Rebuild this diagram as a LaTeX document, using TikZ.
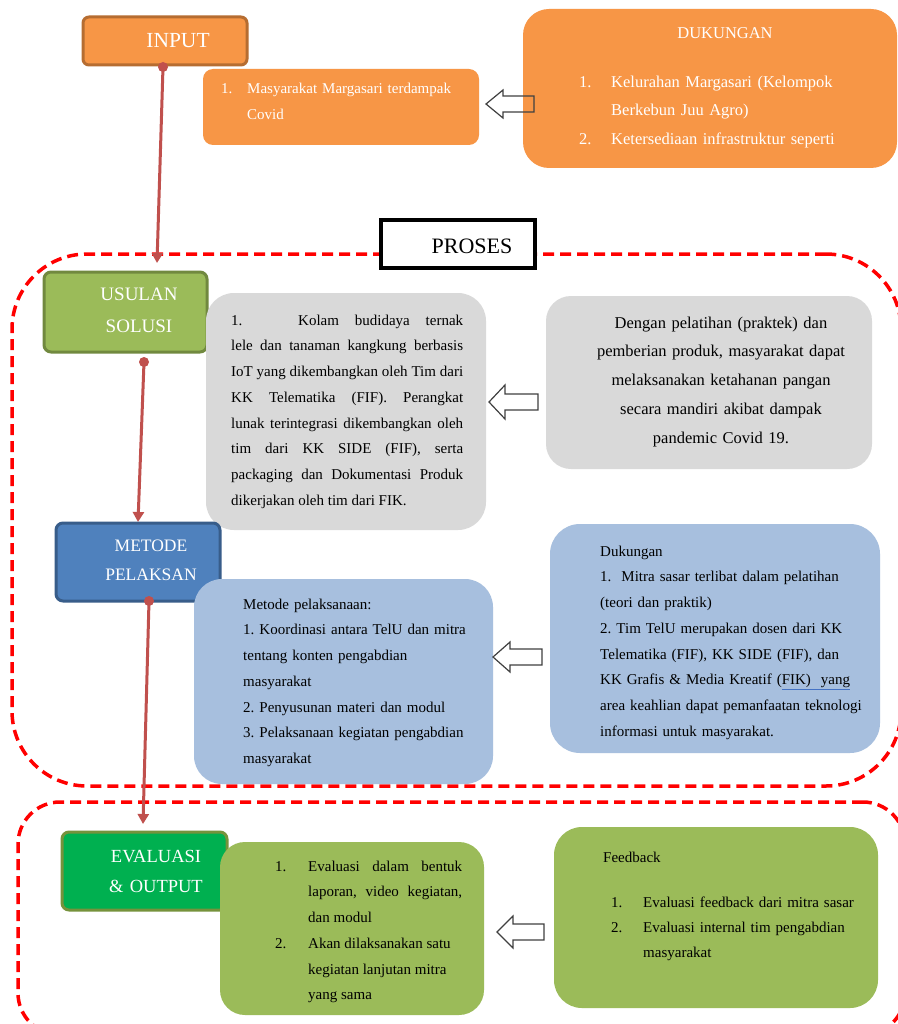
\documentclass[tikz,border=0pt]{standalone}
\usepackage{fontspec}
\setmainfont{Liberation Serif}
\usetikzlibrary{arrows.meta,fit}
\setlength\parindent{0pt}
\frenchspacing
\definecolor{cOrange}{HTML}{F79646}
\definecolor{cOrangeD}{HTML}{B66D31}
\definecolor{cGreen}{HTML}{9BBB59}
\definecolor{cGreenD}{HTML}{71893F}
\definecolor{cBlue}{HTML}{4F81BD}
\definecolor{cBlueD}{HTML}{385D8A}
\definecolor{cLBlue}{HTML}{A7BFDE}
\definecolor{cGrey}{HTML}{D9D9D9}
\definecolor{cEval}{HTML}{00B050}
\definecolor{cEvalD}{HTML}{76923C}
\definecolor{cConn}{HTML}{C0504D}
\definecolor{cDash}{HTML}{FF0000}
\definecolor{cArrow}{HTML}{404040}
\definecolor{cUl}{HTML}{4472C4}
\newcommand\myul[1]{{\color{cUl}\underline{\color{black}#1}}}
\newcommand\fr[1]{\rule{0pt}{#1pt}}
\newcommand\num[2]{\leavevmode\llap{\makebox[#1pt][l]{#2}}}
\tikzset{
  region/.style={draw=cDash, line width=3.5pt, dash pattern=on 11pt off 6pt, inner sep=0pt},
  lblbox/.style={line width=3pt, inner sep=0pt, rounded corners=7pt},
  infobox/.style={inner sep=0pt, draw=none},
  tb/.style={text=black, inner sep=0pt, font=\fontsize{15}{25.7}\selectfont},
  wt/.style={text=white, inner sep=0pt},
  conn/.style={draw=cConn, line width=3pt, -{Triangle[width=11pt,length=10pt]}},
  barrow/.style={draw=cArrow, line width=1.2pt, line join=miter},
}
\begin{document}
\begin{tikzpicture}[x=1pt,y=-1pt]
\useasboundingbox (0,0) rectangle (897,1024);
\fill[white] (0,0) rectangle (897,1024);

% dashed regions
\node[region, rounded corners=75pt, fit={(12,254)(901,786)}] (rproses) {};
\node[region, rounded corners=42pt, fit={(18,802)(905,1035)}] (routput) {};

% INPUT row
\node[lblbox, fill=cOrange, draw=cOrangeD, rounded corners=6pt, fit={(83,17)(247,65)}] (inp) {};
\node[wt, anchor=base, font=\fontsize{21.5}{24}\selectfont] (inpt) at (178,48) {INPUT};
\node[infobox, fill=cOrange, rounded corners=10pt, fit={(203,69)(479,145)}] (inl) {};
\node[wt, text width=215pt, align=left, anchor=north west, font=\fontsize{15}{26}\selectfont] (inlt) at (247,81) {\fr{12}\num{26}{1.}Masyarakat Margasari terdampak\\ Covid};
\node[infobox, fill=cOrange, rounded corners=26pt, fit={(523,9)(897,168)}] (duk) {};
\node[wt, anchor=base, font=\fontsize{16.5}{20}\selectfont] (dukh) at (725,39) {DUKUNGAN};
\node[wt, text width=280pt, align=left, anchor=north west, font=\fontsize{16.5}{28.5}\selectfont] (dukt) at (611,75) {\fr{12}\num{32}{1.}Kelurahan Margasari (Kelompok\\ Berkebun Juu Agro)\\ \num{32}{2.}Ketersediaan infrastruktur seperti};

% PROSES label
\node[draw=black, fill=white, line width=3.5pt, inner sep=0pt, fit={(381,220)(535,268)}] (pros) {};
\node[text=black, inner sep=0pt, anchor=base, font=\fontsize{22}{24}\selectfont] (prost) at (472,253) {PROSES};

% USULAN row
\node[lblbox, fill=cGreen, draw=cGreenD, fit={(44,272)(207,352)}] (usu) {};
\node[wt, text width=140pt, align=center, anchor=north, font=\fontsize{19}{32}\selectfont] (usut) at (139,285) {\fr{15}USULAN\\SOLUSI};
\node[infobox, fill=cGrey, rounded corners=28pt, fit={(206,293)(486,530)}] (gl) {};
\node[tb, text width=232pt, align=justify, anchor=north west] (glt) at (231,313) {\fr{12}\makebox[67pt][l]{1.}Kolam budidaya ternak\linebreak lele dan tanaman kangkung berbasis\linebreak IoT yang dikembangkan oleh Tim dari\linebreak KK Telematika (FIF). Perangkat\linebreak lunak terintegrasi dikembangkan oleh\linebreak tim dari KK SIDE (FIF), serta\linebreak packaging dan Dokumentasi Produk\linebreak dikerjakan oleh tim dari FIK.};
\node[infobox, fill=cGrey, rounded corners=25pt, fit={(546,296)(872,469)}] (gr) {};
\node[tb, text width=320pt, align=center, anchor=north, font=\fontsize{16.5}{28.75}\selectfont] (grt) at (721,316) {\fr{12}Dengan pelatihan (praktek) dan\\ pemberian produk, masyarakat dapat\\ melaksanakan ketahanan pangan\\ secara mandiri akibat dampak\\ pandemic Covid 19.};

% METODE row
\node[lblbox, fill=cBlue, draw=cBlueD, fit={(56,523)(220,601)}] (met) {};
\node[wt, text width=140pt, align=center, anchor=north, font=\fontsize{17.5}{29}\selectfont] (mett) at (151,536) {\fr{15}METODE\\PELAKSAN};
\node[infobox, fill=cLBlue, rounded corners=28pt, fit={(194,579)(493,784)}] (bl) {};
\node[tb, text width=260pt, align=left, anchor=north west] (blt) at (243,597) {\fr{12}Metode pelaksanaan:\\ 1. Koordinasi antara TelU dan mitra\\ tentang konten pengabdian\\ masyarakat\\ 2. Penyusunan materi dan modul\\ 3. Pelaksanaan kegiatan pengabdian\\ masyarakat};
\node[infobox, fill=cLBlue, rounded corners=30pt, fit={(550,524)(880,753)}] (br) {};
\node[tb, text width=280pt, align=left, anchor=north west] (brt) at (600,544) {\fr{12}Dukungan\\ 1.\ \ Mitra sasar terlibat dalam pelatihan\\ (teori dan praktik)\\ 2. Tim TelU merupakan dosen dari KK\\ Telematika (FIF), KK SIDE (FIF), dan\\ KK Grafis \& Media Kreatif (\myul{FIK)\ \ yang}\\ area keahlian dapat pemanfaatan teknologi\\ informasi untuk masyarakat.};

% EVALUASI row
\node[lblbox, fill=cEval, draw=cEvalD, fit={(62,832)(227,910)}] (eva) {};
\node[wt, text width=140pt, align=center, anchor=north, font=\fontsize{18.5}{30}\selectfont] (evat) at (156,847) {\fr{15}EVALUASI\\\& OUTPUT};
\node[infobox, fill=cGreen, rounded corners=25pt, fit={(220,842)(484,1015)}] (ggl) {};
\node[tb, text width=154pt, align=justify, anchor=north west] (gglt) at (308,859) {\fr{12}\num{33}{1.}Evaluasi dalam bentuk\linebreak laporan, video kegiatan,\linebreak dan modul\\ \num{33}{2.}Akan dilaksanakan satu\\ kegiatan lanjutan mitra\\ yang sama};
\node[infobox, fill=cGreen, rounded corners=28pt, fit={(554,827)(878,1008)}] (ggr) {};
\node[tb, anchor=base west] (fb) at (603,862) {Feedback};
\node[tb, text width=230pt, align=left, anchor=north west, font=\fontsize{15}{25}\selectfont] (ggrt) at (643,895) {\fr{12}\num{32}{1.}Evaluasi feedback dari mitra sasar\\ \num{32}{2.}Evaluasi internal tim pengabdian\\ masyarakat};

% connectors
\coordinate (c1s) at (163,67);
\coordinate (c1e) at (157,263);
\coordinate (c2s) at (144,362);
\coordinate (c2e) at (138,522);
\coordinate (c3s) at (149,601);
\coordinate (c3e) at (143,824);
\draw[conn] (c1s) -- (c1e);
\draw[conn] (c2s) -- (c2e);
\draw[conn] (c3s) -- (c3e);
\fill[cConn] (c1s) circle[radius=5pt];
\fill[cConn] (c2s) circle[radius=5pt];
\fill[cConn] (c3s) circle[radius=5pt];

% block arrows
\draw[barrow] (486,104) -- (503,90) -- (503,96) -- (534,96) -- (534,112) -- (503,112) -- (503,118) -- cycle;
\draw[barrow] (489,402) -- (505,385) -- (505,394) -- (538,394) -- (538,410) -- (505,410) -- (505,419) -- cycle;
\draw[barrow] (493,657) -- (510,642) -- (510,649) -- (542,649) -- (542,665) -- (510,665) -- (510,672) -- cycle;
\draw[barrow] (497,932) -- (513,916) -- (513,924) -- (544,924) -- (544,940) -- (513,940) -- (513,948) -- cycle;
\end{tikzpicture}
\end{document}
